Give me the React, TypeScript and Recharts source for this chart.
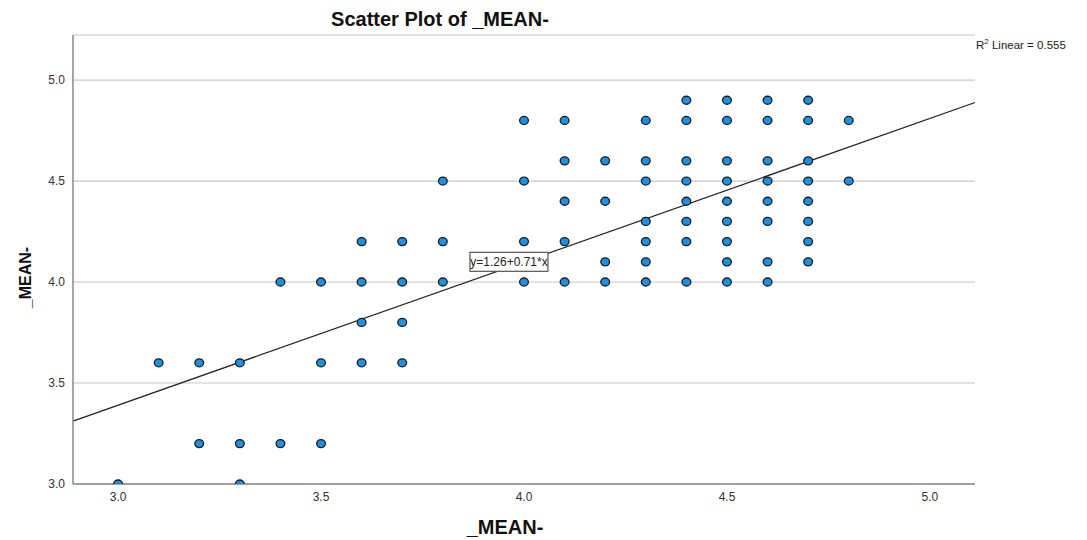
import { ScatterChart, Scatter, XAxis, YAxis, CartesianGrid, ReferenceLine, ReferenceDot } from "recharts"

// x levels of _MEAN- and the y values observed at each level
const xLevels = [3.0, 3.1, 3.2, 3.3, 3.4, 3.5, 3.6, 3.7, 3.8, 4.0, 4.1, 4.2, 4.3, 4.4, 4.5, 4.6, 4.7, 4.8]
const yAtLevel = [
  [3.0],
  [3.6],
  [3.6, 3.2],
  [3.6, 3.2, 3.0],
  [4.0, 3.2],
  [4.0, 3.6, 3.2],
  [4.2, 4.0, 3.8, 3.6],
  [4.2, 4.0, 3.8, 3.6],
  [4.5, 4.2, 4.0],
  [4.8, 4.5, 4.2, 4.0],
  [4.8, 4.6, 4.4, 4.2, 4.0],
  [4.6, 4.4, 4.1, 4.0],
  [4.8, 4.6, 4.5, 4.3, 4.2, 4.1, 4.0],
  [4.9, 4.8, 4.6, 4.5, 4.4, 4.3, 4.2, 4.0],
  [4.9, 4.8, 4.6, 4.5, 4.4, 4.3, 4.2, 4.1, 4.0],
  [4.9, 4.8, 4.6, 4.5, 4.4, 4.3, 4.1, 4.0],
  [4.9, 4.8, 4.6, 4.5, 4.4, 4.3, 4.2, 4.1],
  [4.8, 4.5],
]

const xTicks = [3.0, 3.5, 4.0, 4.5, 5.0]
const yTicks = [3.0, 3.5, 4.0, 4.5, 5.0]
const xDomain = [2.889, 5.111]
const yDomain = [3.0, 5.223]

const intercept = 1.26
const slope = 0.71
const rSquared = 0.555
const equationAt = { x: 3.963, y: 4.1 }

const points = xLevels.flatMap((x, i) => yAtLevel[i].map((y) => ({ x, y })))

const font = "'Liberation Sans', Arial, sans-serif"

const Dot = (props: any) => (
  <ellipse cx={props.cx} cy={props.cy} rx={4.4} ry={4} fill="#1e90e2" stroke="#1a1a1a" strokeWidth={1.3} />
)

const EquationBox = (props: any) => {
  const w = 78
  const h = 19
  return (
    <g>
      <rect x={props.cx - w / 2} y={props.cy - h / 2} width={w} height={h} fill="#fff" stroke="#555" strokeWidth={1.2} />
      <text x={props.cx} y={props.cy + 4} textAnchor="middle" fontSize={12} fill="#222" fontFamily={font}>
        {`y=${intercept.toFixed(2)}+${slope.toFixed(2)}*x`}
      </text>
    </g>
  )
}

export default function App() {
  return (
    <div style={{ position: "absolute", left: 0, top: 0, width: 1087, height: 540, background: "#fff", fontFamily: font }}>
      <div
        style={{
          position: "absolute",
          left: 0,
          width: 880,
          top: 8,
          textAlign: "center",
          fontSize: 20,
          fontWeight: "bold",
          color: "#111",
        }}
      >
        Scatter Plot of _MEAN-
      </div>
      <div style={{ position: "absolute", left: 976, top: 37, fontSize: 11.5, color: "#222", whiteSpace: "nowrap" }}>
        R<sup style={{ fontSize: 8 }}>2</sup> Linear = {rSquared.toFixed(3)}
      </div>
      <ScatterChart width={1087} height={540} margin={{ top: 35, right: 112, bottom: 6, left: 13 }}>
        <CartesianGrid vertical={false} stroke="#c8c8c8" strokeWidth={1.2} />
        <XAxis
          type="number"
          dataKey="x"
          domain={xDomain}
          ticks={xTicks}
          allowDataOverflow
          height={50}
          tickLine={false}
          axisLine={{ stroke: "#888", strokeWidth: 1.5 }}
          tick={{ fontSize: 12, fill: "#333", fontFamily: font }}
          tickFormatter={(v: number) => v.toFixed(1)}
          label={{
            value: "_MEAN-",
            position: "insideBottom",
            offset: 0,
            dx: -19,
            style: { fontSize: 20, fontWeight: "bold", fill: "#111", fontFamily: font },
          }}
        />
        <YAxis
          type="number"
          dataKey="y"
          domain={yDomain}
          ticks={yTicks}
          allowDataOverflow
          width={60}
          tickLine={false}
          axisLine={{ stroke: "#888", strokeWidth: 1.5 }}
          tick={{ fontSize: 12, fill: "#333", fontFamily: font }}
          tickFormatter={(v: number) => v.toFixed(1)}
          label={{
            value: "_MEAN-",
            position: "insideLeft",
            angle: -90,
            offset: 12,
            dy: 18,
            style: { fontSize: 16, fontWeight: "bold", fill: "#111", fontFamily: font, textAnchor: "middle" },
          }}
        />
        <Scatter data={points} shape={<Dot />} isAnimationActive={false} />
        <ReferenceLine
          segment={[
            { x: xDomain[0], y: intercept + slope * xDomain[0] },
            { x: xDomain[1], y: intercept + slope * xDomain[1] },
          ]}
          stroke="#222"
          strokeWidth={1.2}
        />
        <ReferenceDot x={equationAt.x} y={equationAt.y} r={0} shape={<EquationBox />} />
      </ScatterChart>
    </div>
  )
}
